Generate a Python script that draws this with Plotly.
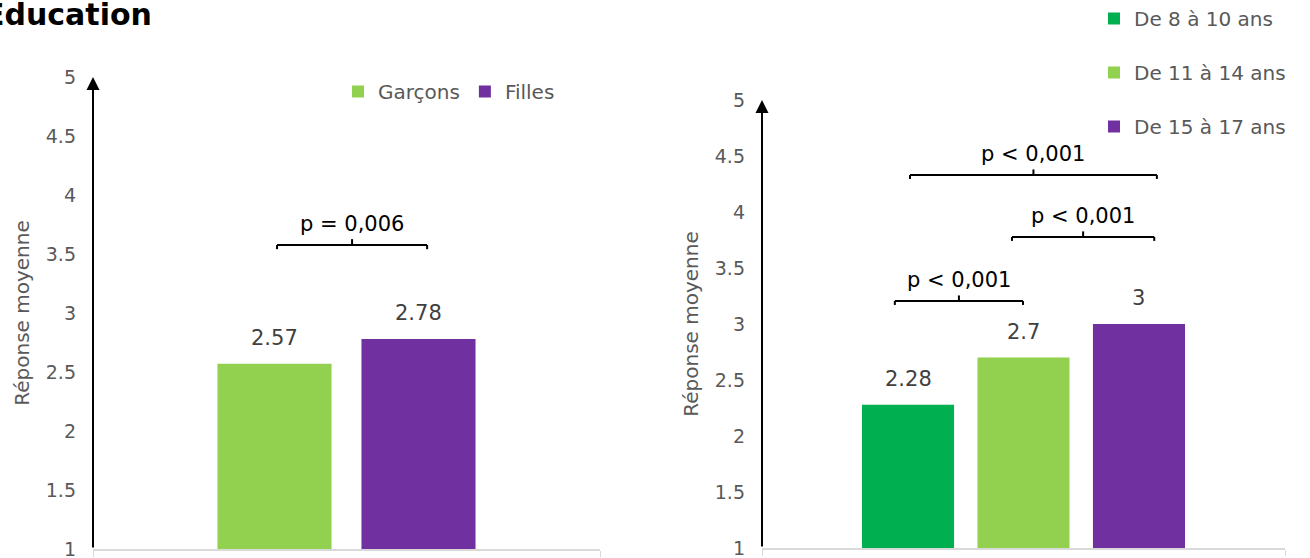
import plotly.graph_objects as go

# ---- data -------------------------------------------------------------
sex_groups = ["Garçons", "Filles"]
sex_means = [2.57, 2.78]
sex_colors = ["#92D050", "#7030A0"]

age_groups = ["De 8 à 10 ans", "De 11 à 14 ans", "De 15 à 17 ans"]
age_means = [2.28, 2.7, 3.0]
age_colors = ["#00B050", "#92D050", "#7030A0"]

y_ticks = [1, 1.5, 2, 2.5, 3, 3.5, 4, 4.5, 5]
y_tick_labels = ["1", "1.5", "2", "2.5", "3", "3.5", "4", "4.5", "5"]

# significance brackets: (x start, x end, level, label) in axis units
sex_tests = [(-0.137, 0.159, 3.576, "p = 0,006")]
age_tests = [
    (-0.246, -0.001, 3.205, "p &lt; 0,001"),
    (-0.022, 0.250, 3.777, "p &lt; 0,001"),
    (-0.217, 0.255, 4.330, "p &lt; 0,001"),
]

# ---- styling -------------------------------------------------------------
W, H = 1310, 558
FONT = "DejaVu Sans"
GREY = "#595959"
LABEL = "#404040"

fig = go.Figure()


def add_panel(names, values, colors, xa, ya, pitch, width, legend):
    n = len(values)
    centers = []
    for i, (name, val, col) in enumerate(zip(names, values, colors)):
        c = (i - (n - 1) / 2) * pitch
        centers.append(c)
        fig.add_trace(go.Bar(
            x=["grp"], y=[val - 1], base=1,
            width=width, offset=c - width / 2,
            name=name, marker_color=col, marker_line_width=0,
            xaxis=xa, yaxis=ya, legend=legend, legendgroup=name,
            hoverinfo="skip",
        ))
        fig.add_annotation(
            x=c, y=val, xref=xa, yref=ya, text=f"{val:g}", showarrow=False,
            yanchor="bottom", yshift=12,
            font=dict(family=FONT, size=21, color=LABEL),
        )
    return centers


add_panel(sex_groups, sex_means, sex_colors, "x", "y", 0.284, 0.225, "legend")
add_panel(age_groups, age_means, age_colors, "x2", "y2", 0.2208, 0.176, "legend2")


def add_brackets(tests, xa, ya):
    for x0, x1, lvl, txt in tests:
        xc = (x0 + x1) / 2
        line = dict(color="black", width=2)
        fig.add_shape(type="line", x0=x0, x1=x1, y0=lvl, y1=lvl,
                      xref=xa, yref=ya, line=line)
        for xe in (x0, x1):
            fig.add_shape(type="line", x0=xe, x1=xe, y0=lvl, y1=lvl - 0.035,
                          xref=xa, yref=ya, line=line)
        fig.add_shape(type="line", x0=xc, x1=xc, y0=lvl, y1=lvl + 0.05,
                      xref=xa, yref=ya, line=line)
        fig.add_annotation(
            x=xc, y=lvl, xref=xa, yref=ya, text=txt, showarrow=False,
            yanchor="bottom", yshift=7,
            font=dict(family=FONT, size=21, color="black"),
        )


add_brackets(sex_tests, "x", "y")
add_brackets(age_tests, "x2", "y2")

# vertical axes drawn as arrows
for xa, ya in (("x", "y"), ("x2", "y2")):
    fig.add_annotation(
        x=-0.5, y=5, ax=-0.5, ay=1, xref=xa, yref=ya, axref=xa, ayref=ya,
        showarrow=True, arrowhead=2, arrowsize=1.3, arrowwidth=2,
        arrowcolor="black", text="",
    )

# heading (its first letter runs off the left edge of the page)
fig.add_annotation(
    x=0, y=1, xref="paper", yref="paper", xanchor="left", yanchor="top",
    xshift=-18.5, yshift=5,
    text="<b>Éducation</b>", showarrow=False,
    font=dict(family=FONT, size=30, color="black"),
)

xaxis_common = dict(
    type="category", range=[-0.5, 0.5], showticklabels=False,
    showline=True, linecolor="#D9D9D9", linewidth=2,
    ticks="outside", tickson="boundaries", ticklen=6, tickcolor="#D9D9D9",
    showgrid=False, zeroline=False, fixedrange=True,
)
yaxis_common = dict(
    range=[1, 5], tickvals=y_ticks, ticktext=y_tick_labels,
    showline=False, showgrid=False, zeroline=False, ticks="",
    ticklabelstandoff=16, ticklabeloverflow="allow",
    tickfont=dict(family=FONT, size=19, color=GREY),
    title=dict(text="Réponse moyenne", standoff=10,
               font=dict(family=FONT, size=20, color=GREY)),
)

fig.update_layout(
    width=W, height=H,
    margin=dict(l=0, r=0, t=0, b=0, autoexpand=False),
    paper_bgcolor="white", plot_bgcolor="white",
    barmode="overlay",
    showlegend=True,
    xaxis=dict(domain=[93 / W, 600 / W], **xaxis_common),
    yaxis=dict(domain=[1 - 549 / H, 1 - 77 / H], anchor="x", **yaxis_common),
    xaxis2=dict(domain=[762 / W, 1285 / W], anchor="y2", **xaxis_common),
    yaxis2=dict(domain=[1 - 548 / H, 1 - 100 / H], anchor="x2", **yaxis_common),
    legend=dict(
        orientation="h", x=338 / W, y=1 - 72 / H, xanchor="left", yanchor="top",
        font=dict(family=FONT, size=20, color=GREY), bgcolor="rgba(0,0,0,0)",
        itemclick=False, itemdoubleclick=False,
    ),
    legend2=dict(
        orientation="v", x=1094 / W, y=1 + 1 / H, xanchor="left", yanchor="top",
        font=dict(family=FONT, size=20, color=GREY), bgcolor="rgba(0,0,0,0)",
        traceorder="grouped", tracegroupgap=25,
        itemclick=False, itemdoubleclick=False,
    ),
)

fig.write_html("out.html", config={"displayModeBar": False})
